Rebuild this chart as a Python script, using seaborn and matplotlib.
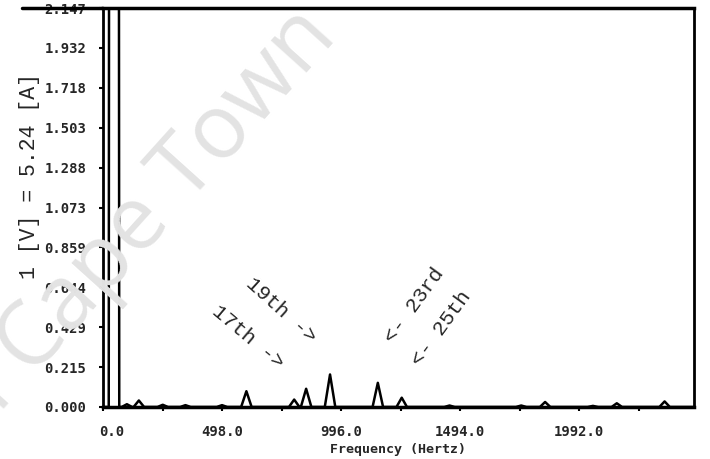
import numpy as np
import pandas as pd
import seaborn as sns
import matplotlib.pyplot as plt
import matplotlib.transforms as mtrans

# harmonic spectrum (Hz, amplitude in V)
peak_freq = [46, 100, 150, 250, 345, 498, 600, 800, 850, 950, 1150, 1250, 1450, 1750, 1850, 2050, 2150, 2350]
peak_amp = [40.0, 0.015, 0.035, 0.012, 0.010, 0.010, 0.085, 0.040, 0.098, 0.175, 0.130, 0.050, 0.008, 0.008, 0.027, 0.006, 0.020, 0.030]
peak_halfwidth = 22
x_max = 2473

x_ticks = [0, 498, 996, 1494, 1992]
x_tick_labels = ["0.0", "498.0", "996.0", "1494.0", "1992.0"]
x_minor = [249, 747, 1245, 1743, 2241]
y_ticks = [0.000, 0.215, 0.429, 0.644, 0.859, 1.073, 1.288, 1.503, 1.718, 1.932, 2.147]

labels = ["17th ->", "19th ->", "<- 23rd", "<- 25th"]
label_freq = [607, 745, 1301, 1414]
label_amp = [0.376, 0.52, 0.547, 0.424]
label_rot = [-40, -42, 54, 54]

# trace vertices: flat baseline with a triangle for each peak
xs, ys = [0], [0]
for f, a in zip(peak_freq, peak_amp):
    xs += [f - peak_halfwidth, f, f + peak_halfwidth]
    ys += [0, a, 0]
xs.append(x_max)
ys.append(0)
df = pd.DataFrame({"freq": xs, "amp": ys})

sns.set_style("ticks")
plt.rcParams["font.family"] = ["DejaVu Sans Mono", "DejaVu Sans"]

fig = plt.figure(figsize=(7.1, 4.59), dpi=100)
ax = fig.add_axes([103 / 710, 52 / 459, 591 / 710, 399 / 459])
ax.patch.set_alpha(0)

# faint watermark behind the chart
wm = dict(rotation=48, rotation_mode="anchor", va="baseline", fontsize=64,
          color="#e3e3e3", family="Open Sans", zorder=0)
fig.text(32 / 710, 1 - 378 / 459, "Cape Town", ha="left", **wm)
fig.text(18 / 710, 1 - 393 / 459, "University of", ha="right", **wm)

sns.lineplot(data=df, x="freq", y="amp", sort=False, estimator=None, color="black", lw=1.8, ax=ax)

ax.set_xlim(0, x_max)
ax.set_ylim(0, y_ticks[-1])
ax.set_xticks(x_ticks)
ax.set_xticklabels(x_tick_labels)
ax.set_xticks(x_minor, minor=True)
ax.set_yticks(y_ticks)
ax.set_yticklabels([f"{v:.3f}" for v in y_ticks])
ax.tick_params(axis="both", which="both", length=3, width=1.5, color="black")
ax.tick_params(axis="y", pad=9, labelsize=10)
ax.tick_params(axis="x", pad=10, labelsize=10)
for t in ax.get_xticklabels() + ax.get_yticklabels():
    t.set_fontweight("bold")
first = ax.get_xticklabels()[0]
first.set_transform(first.get_transform() + mtrans.ScaledTranslation(9 / 100, 0, fig.dpi_scale_trans))

for side in ["top", "right", "bottom", "left"]:
    ax.spines[side].set_visible(True)
    ax.spines[side].set_color("black")
    ax.spines[side].set_linewidth(2)
ax.spines["top"].set_linewidth(2.5)
ax.spines["bottom"].set_linewidth(2.5)
# top border of the print runs past the left axis
ax.plot([-0.137, 0], [1, 1], color="black", lw=2.5, transform=ax.transAxes, clip_on=False)

ax.set_xlabel("Frequency (Hertz)", fontsize=9.5, fontweight="bold", labelpad=3)
ax.set_ylabel("")
fig.text(30 / 710, 1 - 176 / 459, "1 [V] = 5.24 [A]", rotation=90, ha="center", va="center",
         fontsize=15.5, family="Liberation Mono")

for txt, f, a, r in zip(labels, label_freq, label_amp, label_rot):
    ax.text(f, a, txt, rotation=r, ha="center", va="center", rotation_mode="anchor",
            fontsize=15, family="Liberation Mono")

fig.savefig("out.png", dpi=100)
